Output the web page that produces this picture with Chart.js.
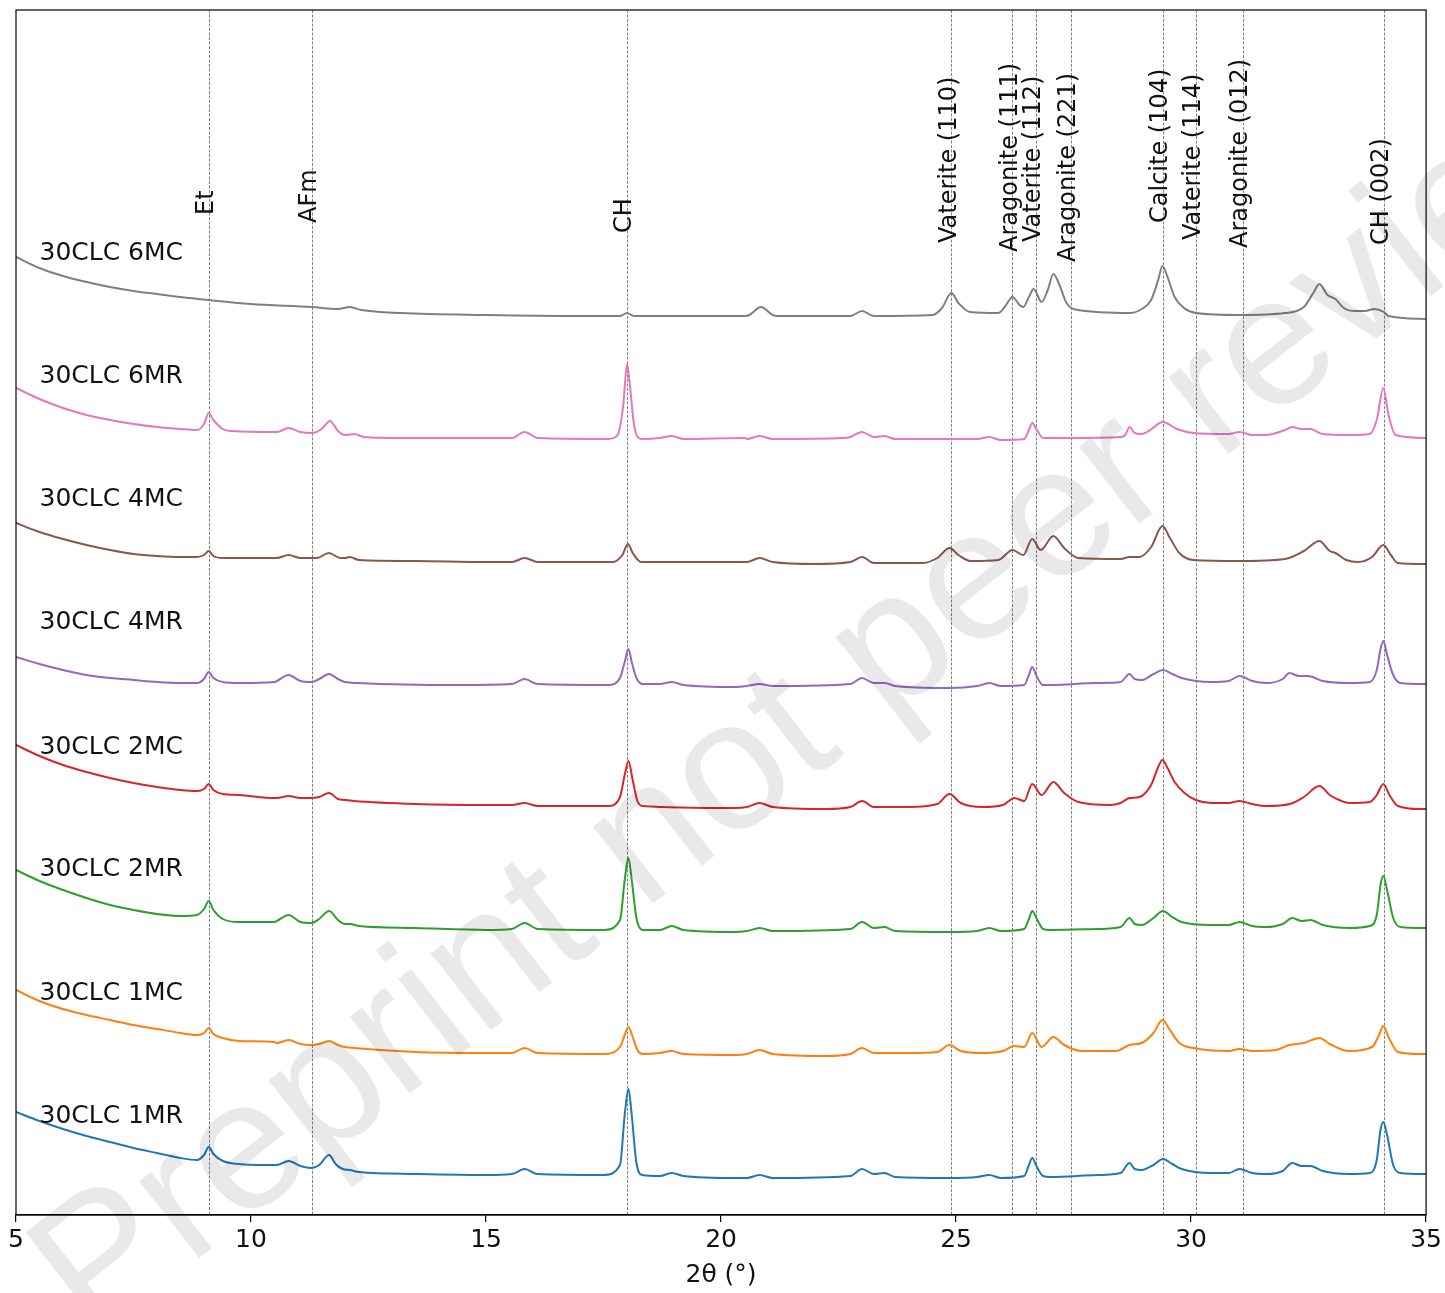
<!DOCTYPE html>
<html>
<head>
<meta charset="utf-8">
<script src="https://cdn.jsdelivr.net/npm/chart.js@4/dist/chart.umd.min.js"></script>
<style>
  html, body { margin: 0; padding: 0; background: #fff; }
  canvas { display: block; }
</style>
</head>
<body>
<canvas id="c" width="1445" height="1293"></canvas>
<script>
// ---------- DATA (2θ in degrees, stacked intensity in arbitrary units) ----------
const seriesNames = ['30CLC 1MR','30CLC 1MC','30CLC 2MR','30CLC 2MC','30CLC 4MR','30CLC 4MC','30CLC 6MR','30CLC 6MC'];

const d1MR = [[5.0,103],[5.5,94],[6.0,86],[6.5,79],[7.0,73],[7.5,67],[8.0,62],[8.5,57],[8.85,55],[9.0,60],[9.1,68],[9.2,61],[9.4,54],[9.74,51],[10.3,50],[10.55,50],[10.8,54],[11.05,49],[11.29,47],[11.45,50],[11.66,60],[11.8,51],[11.95,46],[12.1,45],[12.3,43],[13.5,41],[15.0,40],[15.55,41],[15.82,46],[16.1,41],[17.5,40],[17.85,50],[17.95,100],[18.03,126],[18.1,100],[18.2,52],[18.33,40],[18.7,39],[18.95,42],[19.2,39],[20.29,37],[20.55,37],[20.82,40],[21.1,37],[22.75,39],[23.0,46],[23.25,41],[23.48,42],[23.7,38],[24.86,37],[25.45,38],[25.71,40],[25.95,37],[26.45,39],[26.55,50],[26.62,57],[26.72,48],[26.85,39],[27.01,38],[28.0,40],[28.5,42],[28.69,52],[28.8,46],[28.95,45],[29.2,50],[29.4,56],[29.6,51],[29.8,46],[30.43,42],[30.8,42],[31.03,46],[31.3,42],[31.6,41],[31.95,44],[32.15,52],[32.35,49],[32.54,49],[32.8,44],[33.36,41],[33.8,42],[33.95,55],[34.03,85],[34.09,93],[34.17,80],[34.3,50],[34.45,42],[35.0,41]];

const d1MC = [[5.0,225],[5.5,214],[6.0,206],[6.5,200],[7.0,195],[7.5,190],[8.0,186],[8.5,182],[8.85,180],[9.0,182],[9.1,187],[9.2,181],[9.4,177],[9.74,174],[10.5,173],[10.55,172],[10.8,175],[11.05,171],[11.29,170],[11.45,171],[11.66,174],[11.85,170],[12.0,168],[12.19,167],[13.5,163],[15.0,162],[15.55,162],[15.82,167],[16.1,162],[17.5,161],[17.85,168],[17.95,180],[18.03,188],[18.12,178],[18.22,165],[18.33,161],[18.7,162],[18.95,164],[19.2,161],[20.3,160],[20.55,161],[20.82,165],[21.1,161],[22.22,159],[22.75,161],[23.0,167],[23.25,162],[23.99,162],[24.6,163],[24.86,170],[25.1,164],[25.56,162],[26.0,164],[26.24,169],[26.45,168],[26.62,182],[26.82,168],[27.07,178],[27.3,170],[27.68,164],[28.4,164],[28.69,170],[28.95,172],[29.2,182],[29.39,195],[29.55,185],[29.75,172],[30.05,167],[30.8,164],[31.03,166],[31.3,164],[31.8,165],[32.09,170],[32.4,172],[32.73,177],[32.95,171],[33.36,164],[33.85,168],[34.0,180],[34.09,189],[34.2,178],[34.4,163],[34.87,161],[35.0,161]];

const d2MR = [[5.0,345],[5.5,334],[6.0,325],[6.5,317],[7.0,310],[7.5,305],[8.0,301],[8.5,299],[8.85,300],[9.0,306],[9.1,314],[9.2,305],[9.4,296],[9.74,293],[10.5,293],[10.55,294],[10.8,300],[11.05,293],[11.29,292],[11.45,296],[11.66,304],[11.85,295],[12.0,291],[12.1,291],[12.3,289],[13.5,287],[15.0,285],[15.55,286],[15.82,292],[16.1,286],[17.5,285],[17.85,295],[17.95,335],[18.03,357],[18.1,335],[18.2,297],[18.33,285],[18.7,285],[18.95,289],[19.2,285],[20.29,283],[20.55,284],[20.82,287],[21.1,284],[22.75,286],[23.0,293],[23.25,287],[23.48,288],[23.7,284],[24.86,283],[25.45,284],[25.71,287],[25.95,284],[26.45,286],[26.55,296],[26.62,304],[26.72,296],[26.85,286],[27.01,285],[28.0,286],[28.5,288],[28.69,297],[28.8,291],[28.95,290],[29.2,297],[29.4,304],[29.6,298],[29.8,293],[30.43,290],[30.8,290],[31.03,293],[31.3,289],[31.6,288],[31.95,291],[32.15,297],[32.35,294],[32.54,295],[32.8,290],[33.36,287],[33.8,289],[33.95,300],[34.03,330],[34.09,339],[34.17,325],[34.3,297],[34.45,288],[35.0,287]];

const d2MC = [[5.0,470],[5.5,459],[6.0,450],[6.5,443],[7.0,437],[7.5,432],[8.0,428],[8.5,425],[8.85,424],[9.0,426],[9.1,431],[9.2,425],[9.4,421],[9.74,420],[10.5,417],[10.55,417],[10.8,419],[11.05,417],[11.29,417],[11.45,418],[11.66,422],[11.85,416],[12.0,415],[12.19,414],[13.5,411],[15.0,410],[15.55,410],[15.82,412],[16.1,409],[17.6,409],[17.85,418],[17.95,440],[18.03,454],[18.12,435],[18.22,414],[18.33,409],[20.29,407],[20.55,408],[20.82,412],[21.1,408],[22.22,406],[22.75,408],[23.0,414],[23.25,408],[23.99,408],[24.6,411],[24.86,421],[25.1,412],[25.56,408],[26.0,410],[26.24,417],[26.45,414],[26.62,431],[26.82,420],[27.07,433],[27.3,422],[27.6,413],[28.28,410],[28.5,412],[28.69,417],[28.9,418],[29.15,430],[29.3,448],[29.39,455],[29.5,447],[29.65,433],[29.86,422],[30.1,415],[30.43,412],[30.8,412],[31.03,414],[31.3,411],[31.6,409],[32.1,411],[32.4,418],[32.73,429],[32.95,420],[33.2,414],[33.36,412],[33.8,413],[33.95,420],[34.09,431],[34.22,420],[34.4,409],[34.87,406],[35.0,406]];

const d4MR = [[5.0,558],[5.5,551],[6.0,545],[6.5,540],[7.0,537],[7.5,535],[8.0,533],[8.5,532],[8.85,532],[9.0,536],[9.1,543],[9.2,537],[9.4,533],[9.74,532],[10.5,533],[10.55,534],[10.8,540],[11.05,534],[11.29,533],[11.45,536],[11.66,541],[11.85,536],[12.0,533],[12.27,532],[14.42,530],[15.55,531],[15.82,536],[16.1,531],[17.6,530],[17.85,537],[17.95,553],[18.03,566],[18.1,553],[18.2,537],[18.33,531],[18.7,531],[18.95,533],[19.2,530],[20.29,528],[20.55,529],[20.82,531],[21.1,529],[22.75,531],[23.0,537],[23.25,532],[23.48,532],[23.7,529],[24.86,527],[25.45,529],[25.71,532],[25.95,529],[26.45,530],[26.55,540],[26.62,548],[26.72,538],[26.85,530],[27.01,530],[28.0,532],[28.5,533],[28.69,541],[28.8,536],[28.95,535],[29.2,541],[29.4,545],[29.6,541],[29.8,537],[30.43,533],[30.8,534],[31.03,539],[31.3,534],[31.6,532],[31.95,536],[32.09,542],[32.3,539],[32.49,539],[32.8,534],[33.36,532],[33.8,533],[33.95,545],[34.03,566],[34.09,574],[34.17,560],[34.3,540],[34.45,532],[35.0,531]];

const d4MC = [[5.0,692],[5.5,683],[6.0,676],[6.5,670],[7.0,665],[7.5,661],[8.0,659],[8.5,658],[8.85,658],[9.0,660],[9.1,664],[9.2,659],[9.4,657],[10.0,657],[10.5,657],[10.55,657],[10.8,660],[11.05,657],[11.4,657],[11.66,662],[11.9,657],[12.0,657],[12.1,658],[12.3,655],[13.5,654],[15.0,653],[15.55,653],[15.82,657],[16.1,653],[17.7,653],[17.9,660],[18.02,671],[18.12,662],[18.3,653],[20.5,653],[20.55,653],[20.82,657],[21.1,653],[22.0,651],[22.75,653],[23.0,658],[23.25,652],[24.3,652],[24.6,657],[24.86,667],[25.05,660],[25.3,654],[25.9,655],[26.2,665],[26.43,660],[26.62,676],[26.8,665],[27.07,679],[27.3,667],[27.6,657],[28.5,656],[28.69,658],[28.9,658],[29.15,668],[29.39,689],[29.55,677],[29.75,662],[30.05,655],[31.03,654],[32.0,656],[32.4,664],[32.73,674],[32.95,664],[33.07,662],[33.3,655],[33.56,653],[33.85,658],[34.09,670],[34.25,660],[34.4,652],[35.0,651]];

const d6MR = [[5.0,827],[5.5,816],[6.0,807],[6.5,800],[7.0,795],[7.5,791],[8.0,788],[8.5,786],[8.85,785],[9.0,791],[9.1,802],[9.2,795],[9.4,786],[9.6,784],[10.5,783],[10.55,783],[10.8,787],[11.05,783],[11.3,782],[11.5,786],[11.68,794],[11.85,784],[12.0,780],[12.2,781],[12.4,778],[13.2,777],[15.5,777],[15.55,777],[15.82,783],[16.1,777],[17.6,776],[17.8,780],[17.92,810],[18.0,851],[18.06,830],[18.15,790],[18.3,776],[18.7,777],[18.95,779],[19.2,776],[20.5,777],[20.55,776],[20.82,779],[21.1,776],[22.6,777],[22.75,778],[23.0,783],[23.25,778],[23.48,779],[23.7,776],[25.4,776],[25.45,776],[25.71,778],[25.95,775],[26.45,776],[26.55,785],[26.62,792],[26.72,785],[26.85,777],[27.4,777],[28.5,778],[28.6,780],[28.69,788],[28.8,782],[28.95,781],[29.1,784],[29.4,793],[29.7,786],[30.05,782],[30.8,781],[31.03,783],[31.3,780],[31.6,780],[32.0,785],[32.15,788],[32.35,786],[32.54,786],[32.8,781],[33.4,780],[33.8,781],[33.95,795],[34.09,827],[34.2,800],[34.35,780],[35.0,777]];

const d6MC = [[5.0,958],[5.5,947],[6.0,939],[6.5,933],[7.0,928],[7.5,924],[8.0,921],[8.5,918],[9.1,915],[10.0,911],[11.3,908],[11.85,906],[12.1,908],[12.35,905],[13.2,902],[15.0,900],[17.0,899],[17.85,899],[18.0,902],[18.15,899],[20.5,899],[20.6,900],[20.85,908],[21.1,900],[21.2,899],[22.75,899],[23.0,904],[23.25,899],[24.5,900],[24.7,907],[24.9,922],[25.05,912],[25.3,903],[25.9,902],[26.05,909],[26.2,918],[26.35,910],[26.43,908],[26.55,918],[26.65,926],[26.82,913],[26.95,925],[27.07,941],[27.2,930],[27.35,912],[27.6,905],[28.7,902],[28.95,906],[29.15,915],[29.3,935],[29.39,949],[29.5,938],[29.65,918],[29.85,907],[30.1,902],[31.0,900],[32.0,902],[32.4,908],[32.6,922],[32.73,931],[32.9,920],[33.07,916],[33.25,907],[33.5,904],[33.7,904],[33.9,906],[34.1,903],[34.2,899],[35.0,896]];

const seriesData = [d1MR, d1MC, d2MR, d2MC, d4MR, d4MC, d6MR, d6MC];

// Reference phase positions (2θ) and labels
const phasePositions = [9.1, 11.3, 18.0, 24.9, 26.2, 26.7, 27.45, 29.4, 30.1, 31.1, 34.1];
const phaseLabels = ['Et','AFm','CH','Vaterite (110)','Aragonite (111)','Vaterite (112)','Aragonite (221)','Calcite (104)','Vaterite (114)','Aragonite (012)','CH (002)'];

// x-axis tick values
const xTicks = [5, 10, 15, 20, 25, 30, 35];

// ---------- STYLE / LAYOUT ----------
const seriesColors = ['#1f77b4','#ff7f0e','#2ca02c','#d62728','#9467bd','#8c564b','#e377c2','#7f7f7f'];
const seriesLabelBaseline = [92.5, 215.5, 339.5, 461.5, 586.5, 709.5, 832, 955];
const phaseLabelBottom = [1000, 992, 982, 972, 963, 973, 953, 992, 975, 967, 970];

const datasets = seriesData.map((arr, i) => ({
  label: seriesNames[i],
  data: arr.map(p => ({x: p[0], y: p[1]})),
  borderColor: seriesColors[i],
  backgroundColor: seriesColors[i],
  borderWidth: 2,
  pointRadius: 0,
  fill: false,
  cubicInterpolationMode: 'monotone'
}));

const FONT = '"DejaVu Sans", sans-serif';

const phasePlugin = {
  id: 'phases',
  beforeDatasetsDraw(chart) {
    const {ctx, chartArea, scales} = chart;
    ctx.save();
    ctx.strokeStyle = 'rgba(70,70,70,0.85)';
    ctx.lineWidth = 0.8;
    ctx.setLineDash([3, 1.5]);
    phasePositions.forEach(p => {
      const x = Math.round(scales.x.getPixelForValue(p)) + 0.5;
      ctx.beginPath();
      ctx.moveTo(x, chartArea.top);
      ctx.lineTo(x, chartArea.bottom);
      ctx.stroke();
    });
    ctx.restore();
  },
  afterDatasetsDraw(chart) {
    const {ctx, scales} = chart;
    ctx.save();
    ctx.fillStyle = '#111';
    ctx.font = '24px ' + FONT;
    ctx.textAlign = 'left';
    ctx.textBaseline = 'middle';
    phasePositions.forEach((p, i) => {
      const x = scales.x.getPixelForValue(p) - 2;
      const y = scales.y.getPixelForValue(phaseLabelBottom[i]);
      ctx.save();
      ctx.translate(x, y);
      ctx.rotate(-Math.PI / 2);
      ctx.fillText(phaseLabels[i], 0, 0);
      ctx.restore();
    });
    ctx.font = '25px ' + FONT;
    ctx.textBaseline = 'alphabetic';
    seriesNames.forEach((n, i) => {
      const x = scales.x.getPixelForValue(5.5);
      const y = scales.y.getPixelForValue(seriesLabelBaseline[i]);
      ctx.fillText(n, x, y);
    });
    ctx.restore();
  },
  afterDraw(chart) {
    const {ctx, chartArea} = chart;
    ctx.save();
    ctx.strokeStyle = '#000';
    ctx.lineWidth = 1.2;
    ctx.strokeRect(chartArea.left, chartArea.top, chartArea.right - chartArea.left, chartArea.bottom - chartArea.top);
    ctx.restore();
    // watermark
    ctx.save();
    ctx.translate(92, 1342);
    ctx.rotate(-38 * Math.PI / 180);
    ctx.font = '185px "Liberation Sans", sans-serif';
    ctx.fillStyle = 'rgba(0,0,0,0.085)';
    ctx.textAlign = 'left';
    ctx.textBaseline = 'alphabetic';
    ctx.fillText('Preprint not peer reviewed', 0, 0);
    ctx.restore();
  }
};

new Chart(document.getElementById('c'), {
  type: 'line',
  data: { datasets },
  options: {
    responsive: false,
    animation: false,
    events: [],
    layout: { padding: { left: 16, right: 18, top: 10, bottom: 0 } },
    plugins: { legend: { display: false }, tooltip: { enabled: false } },
    scales: {
      x: {
        type: 'linear', min: 5, max: 35,
        afterBuildTicks(scale) { scale.ticks = xTicks.map(v => ({value: v})); },
        ticks: { font: { size: 25, family: FONT }, color: '#111', padding: 3, maxRotation: 0 },
        grid: { display: true, drawOnChartArea: false, drawTicks: true, tickLength: 7, color: '#000', lineWidth: 1.2 },
        border: { display: true, color: '#000', width: 1.2 },
        title: { display: true, text: '2θ (°)', font: { size: 25, family: FONT }, color: '#111', padding: { top: 0, bottom: 3 } },
        afterFit(scale) { scale.height = 78; }
      },
      y: { display: false, min: 0, max: 1205 }
    }
  },
  plugins: [phasePlugin]
});
</script>
</body>
</html>
